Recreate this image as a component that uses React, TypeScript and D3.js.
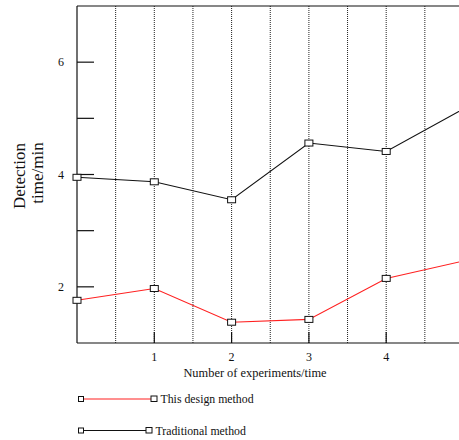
import * as d3 from "d3";

const experiments = [0, 1, 2, 3, 4, 5];
const designMethod = [1.76, 1.97, 1.37, 1.42, 2.15, 2.46];
const traditionalMethod = [3.95, 3.87, 3.55, 4.56, 4.41, 5.17];
const xTickValues = [1, 2, 3, 4];
const yTickValues = [2, 3, 4, 5, 6];
const yLabelValues = [2, 4, 6];
const gridValues = [0.5, 1, 1.5, 2, 2.5, 3, 3.5, 4, 4.5];

const seriesList = [
  { name: "This design method", values: designMethod, color: "#ff2020" },
  { name: "Traditional method", values: traditionalMethod, color: "#111111" },
];

const width = 459;
const height = 440;
const margin = { top: 6, left: 77, bottom: 343 };
const font = "'Liberation Serif', 'Times New Roman', serif";

const App = () => {
  const xScale = d3.scaleLinear().domain([0, 5]).range([margin.left, margin.left + 5 * 77.3]);
  const yScale = d3.scaleLinear().domain([1, 7]).range([margin.bottom, margin.top]);

  const line = d3
    .line<number>()
    .x((_, i) => xScale(experiments[i]))
    .y((d) => yScale(d));

  return (
    <svg
      width={width}
      height={height}
      style={{ position: "absolute", left: 0, top: 0, background: "#fff" }}
      fontFamily={font}
    >
      {/* dotted verticals */}
      {gridValues.map((g) => (
        <line
          key={g}
          x1={xScale(g)}
          x2={xScale(g)}
          y1={margin.top}
          y2={margin.bottom}
          stroke="#222"
          strokeWidth={1}
          strokeDasharray="1,1"
        />
      ))}

      {/* frame */}
      <line x1={margin.left} x2={width} y1={margin.top} y2={margin.top} stroke="#111" strokeWidth={1.2} />
      <line x1={margin.left} x2={width} y1={margin.bottom} y2={margin.bottom} stroke="#111" strokeWidth={1.2} />
      <line x1={margin.left} x2={margin.left} y1={margin.top} y2={margin.bottom} stroke="#111" strokeWidth={1.2} />

      {/* y ticks */}
      {yTickValues.map((t) => (
        <line
          key={t}
          x1={margin.left}
          x2={margin.left + 17}
          y1={yScale(t)}
          y2={yScale(t)}
          stroke="#111"
          strokeWidth={1.2}
        />
      ))}
      {yLabelValues.map((t) => (
        <text key={t} x={61} y={yScale(t) + 4} fontSize={12} textAnchor="middle" fill="#111">
          {t}
        </text>
      ))}

      {/* x ticks */}
      {xTickValues.map((t) => (
        <g key={t}>
          <line
            x1={xScale(t)}
            x2={xScale(t)}
            y1={margin.bottom}
            y2={margin.bottom - 11}
            stroke="#111"
            strokeWidth={1.2}
          />
          <text x={xScale(t)} y={361} fontSize={12} textAnchor="middle" fill="#111">
            {t}
          </text>
        </g>
      ))}

      <text x={255} y={377} fontSize={12.4} textAnchor="middle" fill="#111">
        Number of experiments/time
      </text>
      <text transform="translate(25,176) rotate(-90)" fontSize={17} textAnchor="middle" fill="#111">
        Detection
      </text>
      <text transform="translate(43,173) rotate(-90)" fontSize={17} textAnchor="middle" fill="#111">
        time/min
      </text>

      {/* series */}
      {seriesList.map((s) => (
        <g key={s.name}>
          <path d={line(s.values) || ""} fill="none" stroke={s.color} strokeWidth={1.1} />
          {s.values.map((v, i) => (
            <rect
              key={i}
              x={xScale(experiments[i]) - 4}
              y={yScale(v) - 3}
              width={8}
              height={6}
              fill="#fff"
              stroke="#111"
              strokeWidth={1}
            />
          ))}
        </g>
      ))}

      {/* legend */}
      {seriesList.map((s, i) => {
        const y = 399 + i * 31.5;
        const x2 = i === 0 ? 154 : 149;
        return (
          <g key={s.name}>
            <line x1={81} x2={x2} y1={y} y2={y} stroke={s.color} strokeWidth={1.1} />
            <rect x={78.5} y={y - 2.5} width={5} height={5} fill="#fff" stroke="#111" strokeWidth={1} />
            <rect x={x2 - 3} y={y - 3} width={6} height={5.5} fill="#fff" stroke="#111" strokeWidth={1} />
            <text x={x2 + 6.5} y={y + 4} fontSize={11.8} fill="#111">
              {s.name}
            </text>
          </g>
        );
      })}
    </svg>
  );
};

export default App;
